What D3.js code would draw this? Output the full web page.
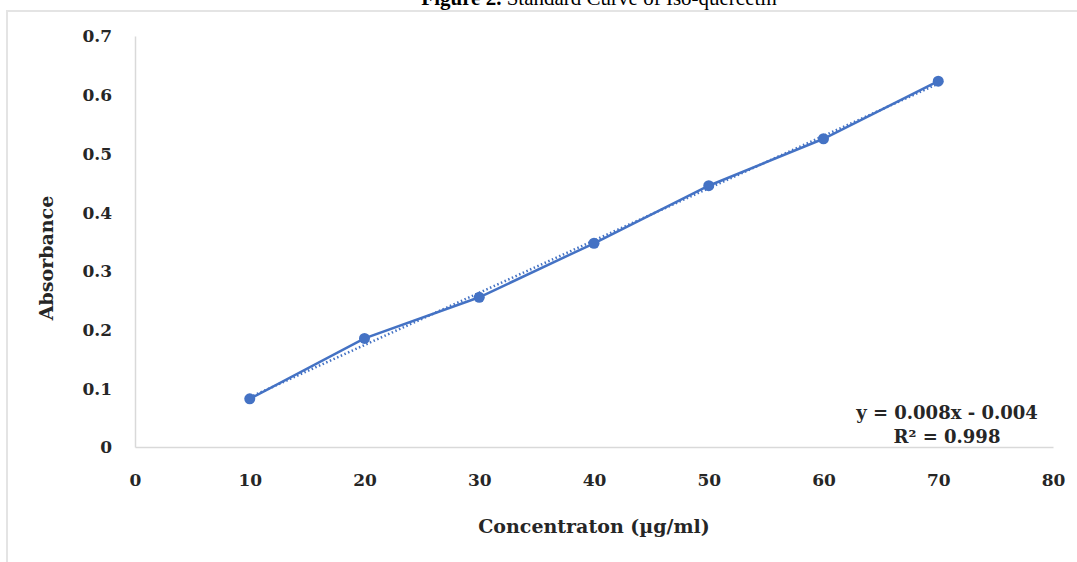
<!DOCTYPE html>
<html>
<head>
<meta charset="utf-8">
<script src="https://cdn.jsdelivr.net/npm/d3@7"></script>
<style>
  body { margin: 0; background: #fff; }
  svg { display: block; }
  text { font-family: "DejaVu Serif", serif; fill: #262626; }
</style>
</head>
<body>
<svg id="chart" width="1077" height="562"></svg>
<script>
// data
var concentrations = [10, 20, 30, 40, 50, 60, 70];
var absorbances = [0.082, 0.185, 0.255, 0.347, 0.445, 0.525, 0.623];
var xTicks = [0, 10, 20, 30, 40, 50, 60, 70, 80];
var yTicks = [0, 0.1, 0.2, 0.3, 0.4, 0.5, 0.6, 0.7];
var equationLines = ["y = 0.008x - 0.004", "R² = 0.998"];

var svg = d3.select("#chart");
var blue = "#4472c4";

var x = d3.scaleLinear().domain([0, 80]).range([135, 1053]);
var y = d3.scaleLinear().domain([0, 0.7]).range([447, 36]);

// page frame + caption (cut off by the top edge, as in the scan)
svg.append("text")
    .attr("x", 599).attr("y", 5)
    .attr("text-anchor", "middle")
    .style("font-family", "Liberation Serif, serif")
    .style("font-size", "21px")
    .style("fill", "#000")
    .html('<tspan font-weight="bold">Figure 2.</tspan> Standard Curve of Iso-quercetin');
svg.append("path")
    .attr("d", "M7,562 V11 H1077")
    .style("fill", "none")
    .style("stroke", "#e4e4e4")
    .style("stroke-width", 2);

// axes
var xAxis = svg.append("g")
    .attr("transform", "translate(0," + y(0) + ")")
    .call(d3.axisBottom(x).tickValues(xTicks).tickSize(0).tickPadding(27).tickFormat(d3.format("d")));
var yAxis = svg.append("g")
    .attr("transform", "translate(" + x(0) + ",0)")
    .call(d3.axisLeft(y).tickValues(yTicks).tickSize(0).tickPadding(23)
      .tickFormat(function (d) { return d === 0 ? "0" : d3.format(".1f")(d); }));

[xAxis, yAxis].forEach(function (g) {
  g.select(".domain").style("stroke", "#d9d9d9").style("stroke-width", 1.5);
  g.selectAll("text")
      .style("font-family", "DejaVu Serif, serif")
      .style("font-weight", "bold")
      .style("font-size", "17px")
      .style("fill", "#262626");
});
yAxis.selectAll("text").attr("dy", "0.35em");

// axis titles
svg.append("text")
    .attr("x", 594).attr("y", 533)
    .attr("text-anchor", "middle")
    .style("font-weight", "bold")
    .style("font-size", "19px")
    .text("Concentraton (µg/ml)");
svg.append("text")
    .attr("transform", "translate(53,258) rotate(-90)")
    .attr("text-anchor", "middle")
    .style("font-weight", "bold")
    .style("font-size", "19px")
    .text("Absorbance");

// linear trendline (least squares)
var mx = d3.mean(concentrations), my = d3.mean(absorbances);
var sxy = d3.sum(concentrations, function (c, i) { return (c - mx) * (absorbances[i] - my); });
var sxx = d3.sum(concentrations, function (c) { return (c - mx) * (c - mx); });
var slope = sxy / sxx, icept = my - slope * mx;
var xEnds = d3.extent(concentrations);
svg.append("line")
    .attr("x1", x(xEnds[0])).attr("y1", y(slope * xEnds[0] + icept))
    .attr("x2", x(xEnds[1])).attr("y2", y(slope * xEnds[1] + icept))
    .style("stroke", blue)
    .style("stroke-width", 2.5)
    .style("stroke-dasharray", "1.5,2.5");

// data series
var pts = concentrations.map(function (c, i) { return [c, absorbances[i]]; });
svg.append("path")
    .datum(pts)
    .attr("d", d3.line().x(function (d) { return x(d[0]); }).y(function (d) { return y(d[1]); }))
    .style("fill", "none")
    .style("stroke", blue)
    .style("stroke-width", 2.5);
svg.selectAll("circle.pt")
    .data(pts)
  .enter().append("circle")
    .attr("class", "pt")
    .attr("cx", function (d) { return x(d[0]); })
    .attr("cy", function (d) { return y(d[1]); })
    .attr("r", 5.5)
    .style("fill", blue);

// equation label
svg.selectAll("text.eq")
    .data(equationLines)
  .enter().append("text")
    .attr("class", "eq")
    .attr("x", 947)
    .attr("y", function (d, i) { return 419 + i * 24; })
    .attr("text-anchor", "middle")
    .style("font-weight", "bold")
    .style("font-size", "18px")
    .text(function (d) { return d; });
</script>
</body>
</html>
